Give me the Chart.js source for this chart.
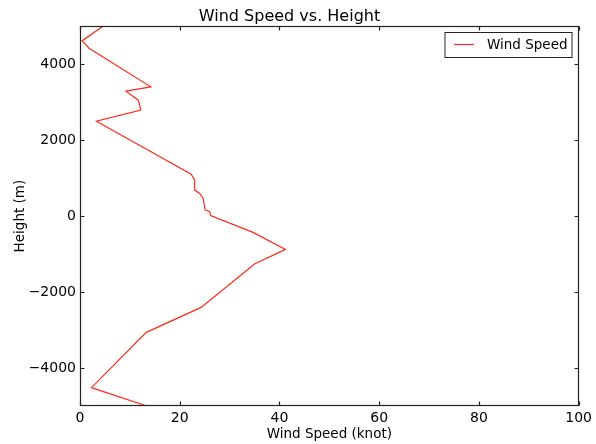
<!DOCTYPE html>
<html>
<head>
<meta charset="utf-8">
<script src="https://cdn.jsdelivr.net/npm/chart.js@4.4.0/dist/chart.umd.min.js"></script>
<style>
  html, body { margin: 0; padding: 0; background: #fff; }
  #wrap { width: 596px; height: 444px; }
</style>
</head>
<body>
<div id="wrap"><canvas id="windChart"></canvas></div>
<script>
// wind speed (knot) and height (m), read top to bottom off the picture
const speeds  = [4.6, 0.4, 1.0, 1.8, 14.2, 9.2, 11.7, 12.2, 3.3, 22.3, 23.0, 23.0, 24.0, 24.7, 25.1, 26.0, 26.2, 34.7, 41.2, 35.0, 24.3, 13.3, 2.3, 13.4];
const heights = [5000, 4613, 4540, 4420, 3403, 3290, 3053, 2790, 2500, 1105, 947, 684, 597, 466, 158, 124, 13, -429, -876, -1263, -2403, -3061, -4518, -5000];

const xTicks = [0, 20, 40, 60, 80, 100];
const yTicks = [-4000, -2000, 0, 2000, 4000];

const FONT = 'DejaVu Sans';

// matplotlib-ish frame: four spines, inward ticks, legend box in the corner
const framePlugin = {
  id: 'frame',
  afterDatasetsDraw(chart) {
    const { ctx, chartArea: a, scales } = chart;
    const L = Math.round(a.left) + 0.5, R = Math.round(a.right) - 0.5;
    const T = Math.round(a.top) + 0.5, B = Math.round(a.bottom) - 0.5;
    ctx.save();
    ctx.strokeStyle = '#222';
    ctx.lineWidth = 1.2;
    ctx.strokeRect(L, T, R - L, B - T);

    ctx.beginPath();
    xTicks.forEach(v => {
      const px = Math.round(scales.x.getPixelForValue(v)) + 0.5;
      ctx.moveTo(px, B); ctx.lineTo(px, B - 4);
      ctx.moveTo(px, T); ctx.lineTo(px, T + 4);
    });
    yTicks.forEach(v => {
      const py = Math.round(scales.y.getPixelForValue(v)) + 0.5;
      ctx.moveTo(L, py); ctx.lineTo(L + 4, py);
      ctx.moveTo(R, py); ctx.lineTo(R - 4, py);
    });
    ctx.stroke();

    // legend
    const ds = chart.data.datasets[0];
    const bx = R - 6.5 - 127, by = T + 6;
    ctx.fillStyle = '#fff';
    ctx.fillRect(bx, by, 127, 25);
    ctx.strokeStyle = '#222';
    ctx.lineWidth = 1;
    ctx.strokeRect(bx, by, 127, 25);
    ctx.strokeStyle = ds.borderColor;
    ctx.lineWidth = ds.borderWidth;
    ctx.beginPath();
    ctx.moveTo(bx + 9, by + 12);
    ctx.lineTo(bx + 29, by + 12);
    ctx.stroke();
    ctx.fillStyle = '#000';
    ctx.font = '13.5px "' + FONT + '"';
    ctx.textBaseline = 'middle';
    ctx.fillText(ds.label, bx + 42, by + 12.5);
    ctx.restore();
  }
};

const fmt = v => (v < 0 ? '\u2212' + Math.abs(v) : String(v));

new Chart(document.getElementById('windChart'), {
  type: 'scatter',
  data: {
    datasets: [{
      label: 'Wind Speed',
      data: speeds.map((s, i) => ({ x: s, y: heights[i] })),
      showLine: true,
      borderColor: '#ff2a1a',
      borderWidth: 1.2,
      pointRadius: 0,
      tension: 0,
    }],
  },
  options: {
    responsive: true,
    maintainAspectRatio: false,
    animation: false,
    layout: { padding: { left: 0, right: 17, top: 0, bottom: 0 } },
    plugins: {
      legend: { display: false },
      tooltip: { enabled: false },
      title: {
        display: true,
        text: 'Wind Speed vs. Height',
        color: '#000',
        font: { family: FONT, size: 16, weight: 'normal' },
        padding: { top: 7, bottom: 0 },
      },
    },
    scales: {
      x: {
        type: 'linear',
        min: 0, max: 100,
        afterBuildTicks: s => { s.ticks = xTicks.map(v => ({ value: v })); },
        afterFit: s => { s.height = 38; },
        grid: { display: false, drawTicks: false },
        border: { display: false },
        ticks: { color: '#000', font: { family: FONT, size: 14 }, padding: 4, callback: fmt },
        title: {
          display: true, text: 'Wind Speed (knot)', color: '#000',
          font: { family: FONT, size: 13.5 }, padding: { top: 0, bottom: 1 },
        },
      },
      y: {
        type: 'linear',
        min: -5000, max: 5000,
        afterBuildTicks: s => { s.ticks = yTicks.map(v => ({ value: v })); },
        afterFit: s => { s.width = 80; },
        grid: { display: false, drawTicks: false },
        border: { display: false },
        ticks: { color: '#000', font: { family: FONT, size: 14 }, padding: 4, callback: fmt },
        title: {
          display: true, text: 'Height (m)', color: '#000',
          font: { family: FONT, size: 13.5 }, padding: { top: 12, bottom: 0 },
        },
      },
    },
  },
  plugins: [framePlugin],
});
</script>
</body>
</html>
